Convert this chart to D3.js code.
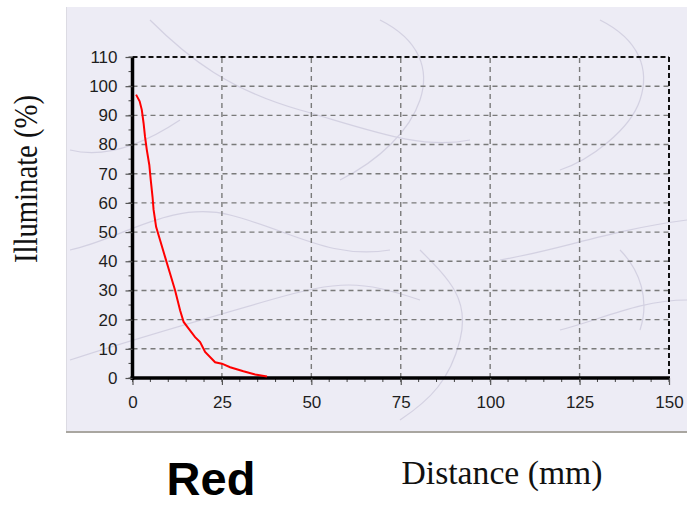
<!DOCTYPE html>
<html><head><meta charset="utf-8">
<script src="https://cdn.jsdelivr.net/npm/d3@7"></script>
<style>html,body{margin:0;padding:0;background:#fff;}svg{display:block;}</style>
</head><body>
<svg id="chart" width="687" height="506"></svg>
<script>
const distance = [1.0, 2.0, 2.6, 3.1, 3.5, 4.0, 4.7, 5.1, 5.6, 5.9, 6.6, 7.7, 9.1, 10.5, 11.9, 13.3, 14.3, 15.7, 17.5, 18.9, 20.3, 23.1, 25.0, 27.3, 31.0, 34.3, 37.6];
const illuminate = [97.1, 94.8, 91.9, 87.3, 82.7, 78.2, 73.0, 67.9, 62.1, 57.6, 51.8, 47.3, 41.5, 35.8, 30.1, 23.2, 19.2, 16.9, 14.0, 12.3, 8.9, 5.4, 4.9, 3.7, 2.3, 1.2, 0.5];
const xTicks = [0, 25, 50, 75, 100, 125, 150];
const yTicks = [0, 10, 20, 30, 40, 50, 60, 70, 80, 90, 100, 110];
const xTitle = "Distance (mm)";
const yTitle = "Illuminate (%)";
const caption = "Red";

const svg = d3.select("#chart");
// marble panel
svg.append("rect").attr("x", 66).attr("y", 7).attr("width", 621).attr("height", 425).attr("fill", "#edecf5");
svg.append("line").attr("x1", 66.5).attr("x2", 66.5).attr("y1", 7).attr("y2", 432).attr("stroke", "#dcdbe3").attr("stroke-width", 1);
svg.append("line").attr("x1", 66).attr("x2", 687).attr("y1", 432).attr("y2", 432).attr("stroke", "#a9a6a0").attr("stroke-width", 2);
const veins = svg.append("g").attr("fill", "none").attr("stroke", "#c9c6da").attr("stroke-width", 1.2).attr("opacity", 0.7);
[
 "M150,20 C190,60 230,90 300,110 S420,150 470,140",
 "M70,250 C120,240 170,200 230,215 S330,260 390,250",
 "M380,20 C420,40 430,70 420,100 S380,160 340,180",
 "M600,20 C640,40 650,70 640,100 S590,160 560,170",
 "M70,360 C130,340 200,320 270,300 S360,280 420,300",
 "M420,250 C450,280 470,300 460,340 S430,400 400,420",
 "M500,260 C560,250 610,230 687,220",
 "M560,330 C600,320 640,300 687,300",
 "M70,150 C110,160 150,140 180,120",
 "M620,250 C640,270 650,300 640,330"
].forEach(d => veins.append("path").attr("d", d));

const x = d3.scaleLinear().domain([0, 150]).range([132.5, 669]);
const y = d3.scaleLinear().domain([0, 110]).range([378, 57]);

// grid
const grid = svg.append("g").attr("stroke", "#7a7a7a").attr("stroke-width", 1.4).attr("stroke-dasharray", "5,4");
yTicks.filter(t => t > 0 && t < 110).forEach(t => grid.append("line").attr("x1", x(0)).attr("x2", x(150)).attr("y1", y(t)).attr("y2", y(t)));
xTicks.filter(t => t > 0 && t < 150).forEach(t => grid.append("line").attr("x1", x(t)).attr("x2", x(t)).attr("y1", y(0)).attr("y2", y(110)));

// dashed top/right border
const border = svg.append("g").attr("stroke", "#111").attr("stroke-width", 2).attr("stroke-dasharray", "5,3");
border.append("line").attr("x1", x(0)).attr("x2", x(150)).attr("y1", y(110)).attr("y2", y(110));
border.append("line").attr("x1", x(150)).attr("x2", x(150)).attr("y1", y(110)).attr("y2", y(0));

// minor ticks
const minor = svg.append("g").attr("stroke", "#444").attr("stroke-width", 1);
d3.range(0, 151, 5).forEach(t => minor.append("line").attr("x1", x(t)).attr("x2", x(t)).attr("y1", y(0)).attr("y2", y(0) + 4));
d3.range(0, 111, 5).forEach(t => minor.append("line").attr("x1", x(0) - 4).attr("x2", x(0)).attr("y1", y(t)).attr("y2", y(t)));

// axes
const xAxis = svg.append("g").attr("transform", `translate(0,${y(0)})`)
  .call(d3.axisBottom(x).tickValues(xTicks).tickSize(7).tickPadding(11));
const yAxis = svg.append("g").attr("transform", `translate(${x(0)},0)`)
  .call(d3.axisLeft(y).tickValues(yTicks).tickSize(7).tickPadding(8));
[xAxis, yAxis].forEach(a => {
  a.select(".domain").attr("stroke", "#000").attr("stroke-width", 3.5);
  a.selectAll(".tick line").attr("stroke", "#555").attr("stroke-width", 1.2);
  a.selectAll("text").attr("font-family", "Arial, 'Liberation Sans', sans-serif").attr("font-size", 17).attr("fill", "#1e1e1e");
});
xAxis.select(".domain").attr("d", `M${x(0)-2},0H${x(150)+1}`);
yAxis.select(".domain").attr("d", `M0,${y(110)}V${y(0)+2}`);

// curve
svg.append("path").datum(distance.map((d, i) => [d, illuminate[i]]))
  .attr("fill", "none").attr("stroke", "#ff0000").attr("stroke-width", 2)
  .attr("d", d3.line().x(d => x(d[0])).y(d => y(d[1])));

// titles
svg.append("text").attr("transform", "translate(37,179) rotate(-90)").attr("text-anchor", "middle")
  .attr("font-family", "'Liberation Serif', 'Times New Roman', serif").attr("font-size", 33)
  .attr("textLength", 168).attr("lengthAdjust", "spacingAndGlyphs").attr("fill", "#111").text(yTitle);
svg.append("text").attr("x", 502).attr("y", 484).attr("text-anchor", "middle")
  .attr("font-family", "'Liberation Serif', 'Times New Roman', serif").attr("font-size", 34)
  .attr("textLength", 201).attr("lengthAdjust", "spacingAndGlyphs").attr("fill", "#111").text(xTitle);
svg.append("text").attr("x", 211).attr("y", 495).attr("text-anchor", "middle")
  .attr("font-family", "Arial, 'Liberation Sans', sans-serif").attr("font-weight", "bold").attr("font-size", 47).attr("fill", "#000").text(caption);
</script>
</body></html>
